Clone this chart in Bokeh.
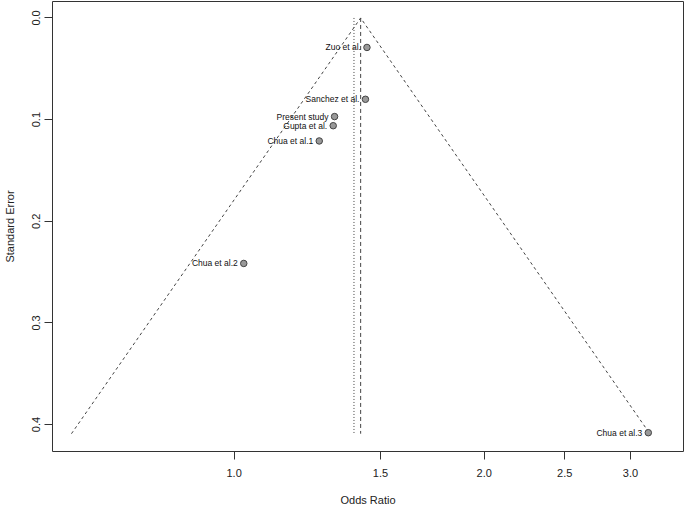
import numpy as np
from bokeh.plotting import figure
from bokeh.models import Range1d, FixedTicker, PrintfTickFormatter, ColumnDataSource
from bokeh.core.properties import value
from bokeh.embed import file_html
from bokeh.resources import INLINE

studies = ["Zuo et al.", "Sanchez et al.", "Present study", "Gupta et al.",
           "Chua et al.1", "Chua et al.2", "Chua et al.3"]
odds_ratio = [1.445, 1.439, 1.321, 1.316, 1.266, 1.027, 3.152]
std_error = [0.029, 0.080, 0.097, 0.106, 0.121, 0.2415, 0.408]
pooled_or = 1.42
ref_or = 1.394
se_max = 0.409
x_ticks = [1.0, 1.5, 2.0, 2.5, 3.0]
y_ticks = [0.0, 0.1, 0.2, 0.3, 0.4]

FONT = "Liberation Sans"

p = figure(width=685, height=508, output_backend="svg", toolbar_location=None,
           x_axis_type="log",
           x_range=Range1d(0.6044, 3.475), y_range=Range1d(0.4265, -0.0162),
           min_border_left=51, min_border_right=2, min_border_top=1, min_border_bottom=55)
p.grid.visible = False
p.outline_line_color = "#333333"
p.outline_line_width = 1
p.background_fill_color = "white"
p.border_fill_color = "white"

# funnel
est = np.log(pooled_or)
fx = np.exp([est - 1.96 * se_max, est, est + 1.96 * se_max])
fy = [se_max, 0.0, se_max]
p.line(fx, fy, line_color="#444444", line_width=1, line_dash="3 3")
p.line([pooled_or, pooled_or], [0.0, se_max], line_color="#444444", line_width=1, line_dash="4 3")
p.line([ref_or, ref_or], [0.0, se_max], line_color="#444444", line_width=1, line_dash="1 2")

src = ColumnDataSource(dict(x=odds_ratio, y=std_error, name=studies))
p.scatter("x", "y", source=src, size=6.5, fill_color="#999999", line_color="#444444", line_width=1)
p.text("x", "y", text="name", source=src, x_offset=-6, text_align="right",
       text_baseline="middle", text_font=value(FONT), text_font_size="8.5px", text_color="#111111")

for ax in (p.xaxis[0], p.yaxis[0]):
    ax.axis_line_color = None
    ax.major_tick_line_color = "#333333"
    ax.minor_tick_line_color = None
    ax.major_tick_out = 8
    ax.major_tick_in = 0
    ax.major_label_text_font = FONT
    ax.major_label_text_font_size = "11px"
    ax.major_label_text_color = "#222222"
    ax.axis_label_text_font = FONT
    ax.axis_label_text_font_size = "11px"
    ax.axis_label_text_font_style = "normal"
    ax.axis_label_text_color = "#222222"

p.xaxis.ticker = FixedTicker(ticks=x_ticks)
p.xaxis.formatter = PrintfTickFormatter(format="%.1f")
p.xaxis.axis_label = "Odds Ratio"
p.xaxis.major_label_standoff = 9
p.xaxis.axis_label_standoff = 14

p.yaxis.ticker = FixedTicker(ticks=y_ticks)
p.yaxis.formatter = PrintfTickFormatter(format="%.1f")
p.yaxis.axis_label = "Standard Error"
p.yaxis.major_label_orientation = "vertical"
p.yaxis.major_label_standoff = 4
p.yaxis.axis_label_standoff = 14

open("out.html", "w").write(file_html(p, INLINE))
